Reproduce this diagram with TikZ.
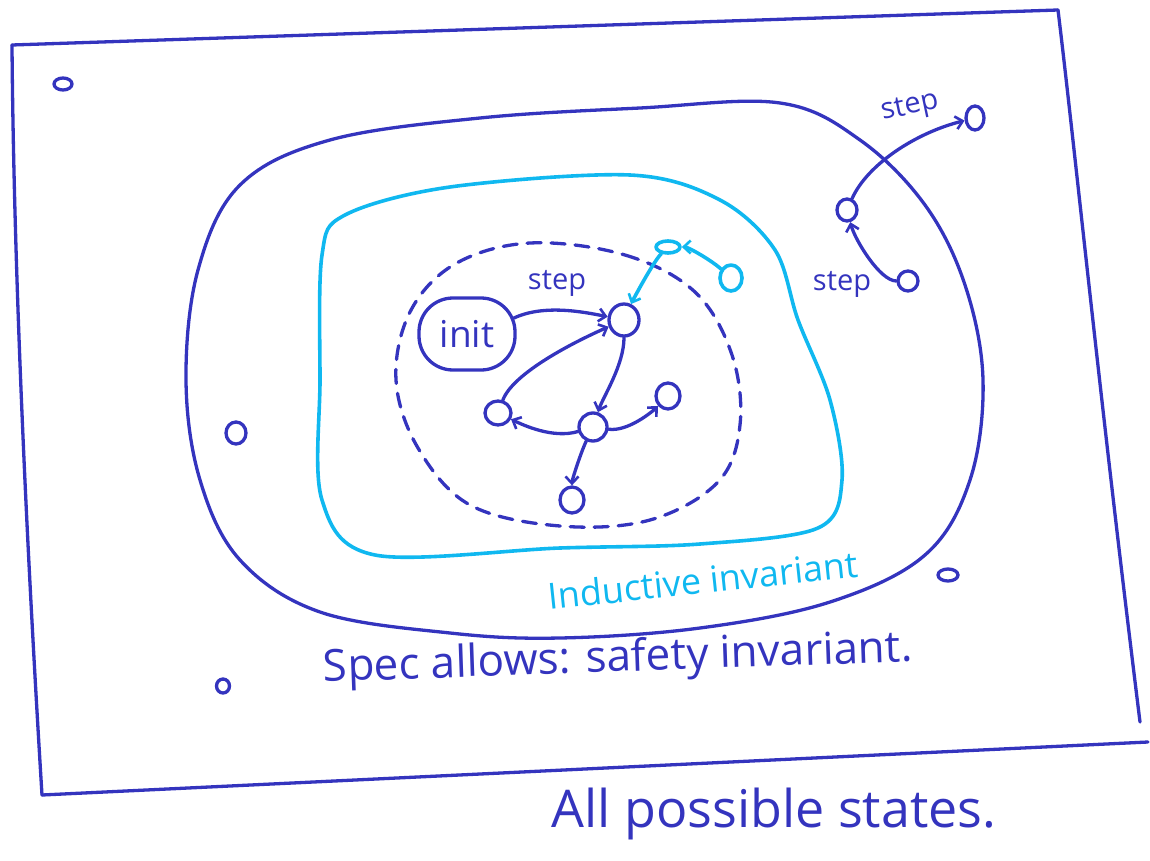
\documentclass[tikz,border=0pt]{standalone}
\usepackage{fontspec}
\setmainfont{Open Sans}
\usetikzlibrary{arrows.meta,shapes.geometric}
\definecolor{ink}{RGB}{52,52,190}
\definecolor{cyanink}{RGB}{16,184,240}
\begin{document}
\begin{tikzpicture}[x=1pt,y=-1pt,line cap=round,line join=round,
  pen/.style={draw=ink,line width=3.3pt},
  cpen/.style={draw=cyanink,line width=3.6pt},
  tip/.style={-{Straight Barb[length=7pt,width=13pt,line width=2.6pt]}},
  st/.style={pen,ellipse,inner sep=0pt},
  cst/.style={cpen,ellipse,inner sep=0pt},
  lbl/.style={text=ink,font=\fontsize{29}{31}\selectfont},
]
\useasboundingbox (0,0) rectangle (1150,861);

% outer frame (all possible states)
\coordinate (tl) at (12,45);
\coordinate (tr) at (1058,10);
\coordinate (br) at (1140,722);
\coordinate (bl) at (42,795);
\coordinate (bx) at (1148,742);
\draw[pen] (tl) -- (tr);
\draw[pen] (tr) .. controls (1075,150) and (1100,400) .. (br);
\draw[pen] (tl) .. controls (14,300) and (30,600) .. (bl);
\draw[pen] (bl) -- (bx);

% spec allows blob
\draw[pen] plot[smooth cycle,tension=0.6] coordinates {
 (780,103) (640,108) (480,118) (330,140) (240,185) (198,270) (186,380)
 (200,480) (240,560) (320,612) (450,633) (560,638) (700,628) (830,602)
 (925,555) (970,480) (983,380) (965,285) (925,205) (860,140)};

% inductive invariant blob
\draw[cpen] plot[smooth cycle,tension=0.55] coordinates {
 (630,175) (720,200) (775,250) (798,320) (830,400) (842,480) (818,528)
 (700,544) (560,548) (375,555) (322,500) (320,380) (322,255) (345,215)
 (450,187)};

% dashed region
\draw[pen,dash pattern=on 14pt off 10pt] plot[smooth cycle,tension=0.6] coordinates {
 (530,243) (625,255) (695,292) (732,355) (740,425) (718,482) (650,520)
 (560,526) (470,505) (418,448) (396,380) (410,312) (455,264)};

% nodes
\node[pen,rectangle,rounded corners=34pt,minimum width=96pt,minimum height=72pt,
  text=ink,font=\fontsize{37}{40}\selectfont] (init) at (467,334) {init};
\node[st,minimum width=30pt,minimum height=32pt] (a) at (624,320) {};
\node[st,minimum width=26pt,minimum height=24pt] (b) at (498,413) {};
\node[st,minimum width=28pt,minimum height=28pt] (c) at (593,427) {};
\node[st,minimum width=24pt,minimum height=26pt] (d) at (668,396) {};
\node[st,minimum width=24pt,minimum height=26pt] (e) at (572,500) {};
\node[cst,minimum width=24pt,minimum height=12pt] (f) at (668,247) {};
\node[cst,minimum width=22pt,minimum height=26pt] (g) at (731,278) {};
\node[st,minimum width=20pt,minimum height=22pt] (h) at (847,210) {};
\node[st,minimum width=20pt,minimum height=20pt] (i) at (908,281) {};
\node[st,minimum width=18pt,minimum height=24pt] (j) at (975,118) {};
\node[st,minimum width=18pt,minimum height=12pt] (s1) at (63,84) {};
\node[st,minimum width=20pt,minimum height=22pt] (s2) at (236,433) {};
\node[st,minimum width=20pt,minimum height=12pt] (s3) at (948,575) {};
\node[st,minimum width=13pt,minimum height=14pt] (s4) at (223,686) {};

% edges
\coordinate (ie) at (514,318);
\draw[pen,tip] (ie) .. controls +(30,-14) and +(-40,-8) .. (a);
\draw[pen,tip] (a) .. controls +(0,45) and +(10,-30) .. (c);
\draw[pen,tip] (c) .. controls +(-40,12) and +(25,12) .. (b);
\draw[pen,tip] (b) .. controls +(15,-40) and +(-50,22) .. (a);
\draw[pen,tip] (c) .. controls +(35,5) and +(-15,15) .. (d);
\draw[pen,tip] (c) .. controls +(-12,25) and +(0,-20) .. (e);
\draw[cpen,tip] (f) .. controls +(-15,15) and +(8,-18) .. (a);
\draw[cpen,tip] (g) .. controls +(-20,-18) and +(20,0) .. (f);
\draw[pen,tip] (i) .. controls +(-28,0) and +(8,30) .. (h);
\draw[pen,tip] (h) .. controls +(20,-45) and +(-60,15) .. (j);

% labels
\node[lbl] (l1) at (557,283) {step};
\node[lbl,rotate=12] (l2) at (910,108) {step};
\node[lbl] (l3) at (842,284) {step};
\node[text=cyanink,font=\fontsize{36}{40}\selectfont,rotate=6] (l4) at (703,580) {Inductive invariant};
\node[text=ink,font=\fontsize{44}{48}\selectfont,rotate=2] (l5) at (618,660) {Spec allows: safety invariant.};
\node[text=ink,font=\fontsize{52}{56}\selectfont] (l6) at (774,814) {All possible states.};
\end{tikzpicture}
\end{document}
